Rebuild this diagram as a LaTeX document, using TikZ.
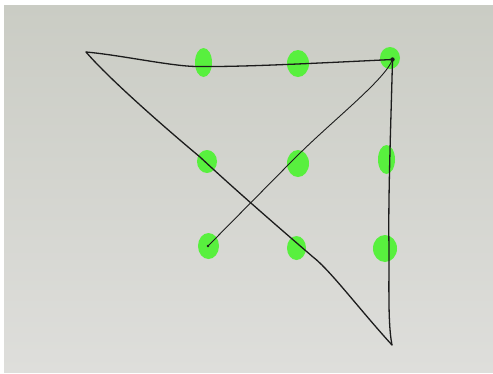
\documentclass[tikz,border=0pt]{standalone}
\usetikzlibrary{shapes.geometric}
\definecolor{paperA}{RGB}{202,204,196}
\definecolor{paperB}{RGB}{222,222,219}
\definecolor{dotgreen}{RGB}{88,240,62}
\definecolor{ink}{RGB}{28,28,28}
\begin{document}
\begin{tikzpicture}[x=1pt,y=-1pt,
  greendot/.style={ellipse,fill=dotgreen,inner sep=0pt},
  pen/.style={draw=ink,line width=1.3pt,line join=round,line cap=round}]
\useasboundingbox (0,0) rectangle (493,373);
\fill[white] (0,0) rectangle (493,373);
\shade[top color=paperA,bottom color=paperB] (4,5) rectangle (493,372);
% dots
\node[greendot,minimum width=17pt,minimum height=29pt] (d11) at (203.5,62.5) {};
\node[greendot,minimum width=22pt,minimum height=27pt] (d12) at (298,63.5) {};
\node[greendot,minimum width=20pt,minimum height=22pt] (d13) at (390,58) {};
\node[greendot,minimum width=20pt,minimum height=23pt] (d21) at (207,161.5) {};
\node[greendot,minimum width=22pt,minimum height=27pt] (d22) at (298,163.5) {};
\node[greendot,minimum width=17pt,minimum height=29pt] (d23) at (386.5,159.5) {};
\node[greendot,minimum width=21pt,minimum height=26pt] (d31) at (208.5,246) {};
\node[greendot,minimum width=19pt,minimum height=24pt] (d32) at (296.5,248) {};
\node[greendot,minimum width=24pt,minimum height=27pt] (d33) at (385,248.5) {};
% corners of the drawn path
\coordinate (s) at (86,52);
\coordinate (tr) at (392.5,59.5);
\coordinate (e) at (392,345);
\coordinate (bl) at (208,246);
% top stroke
\draw[pen] (s) .. controls (120,55) and (170,66) .. (196,66.5)
  .. controls (240,67) and (300,64) .. (tr);
% right stroke
\draw[pen] (tr) .. controls (391,120) and (388,200) .. (389,247)
  .. controls (389,290) and (388,325) .. (e);
% long diagonal
\draw[pen] (e) .. controls (360,310) and (330,270) .. (313,257)
  .. controls (270,220) and (230,185) .. (200,157)
  .. controls (170,132) and (110,80) .. (s);
% inner diagonal
\draw[pen,line width=0.9pt] (tr) .. controls (385,80) and (330,122.5) .. (293,160)
  -- (bl);
\fill[ink] (tr) circle (2.2pt);
\fill[ink] (bl) circle (1.4pt);
\end{tikzpicture}
\end{document}
